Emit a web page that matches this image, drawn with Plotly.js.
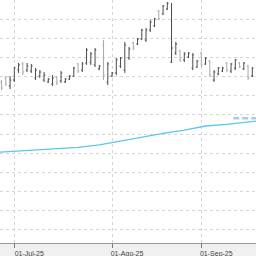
<!DOCTYPE html>
<html><head><meta charset="utf-8">
<script src="https://cdn.plot.ly/plotly-3.0.1.min.js"></script>
<style>html,body{margin:0;padding:0;background:#f0f0f0}#c{width:256px;height:256px}</style>
</head><body><div id="c"></div>
<script>
const dates = ['2025-06-26','2025-06-27','2025-06-30','2025-07-01','2025-07-02','2025-07-03','2025-07-04','2025-07-07','2025-07-08','2025-07-09','2025-07-10','2025-07-11','2025-07-14','2025-07-15','2025-07-16','2025-07-17','2025-07-18','2025-07-21','2025-07-22','2025-07-23','2025-07-24','2025-07-25','2025-07-28','2025-07-29','2025-07-30','2025-07-31','2025-08-01','2025-08-04','2025-08-05','2025-08-06','2025-08-07','2025-08-08','2025-08-11','2025-08-12','2025-08-13','2025-08-14','2025-08-15','2025-08-18','2025-08-19','2025-08-20','2025-08-21','2025-08-22','2025-08-25','2025-08-26','2025-08-27','2025-08-28','2025-08-29','2025-09-01','2025-09-02','2025-09-03','2025-09-04','2025-09-05','2025-09-08','2025-09-09','2025-09-10','2025-09-11','2025-09-12','2025-09-15','2025-09-16','2025-09-17'];
const high  = [20.82,21.03,21.03,21.50,21.71,21.76,21.71,21.66,21.45,21.34,21.24,20.93,21.08,21.03,21.29,20.93,21.08,21.50,21.71,21.76,22.49,22.28,22.49,21.61,22.91,21.76,21.24,21.97,22.02,22.81,22.55,22.81,23.02,23.49,23.54,23.96,24.06,24.48,24.74,24.90,24.84,22.81,22.39,22.28,22.28,22.23,21.87,22.28,22.02,21.87,21.34,21.50,21.50,21.76,21.71,21.92,21.76,21.76,21.61,21.50];
const low   = [20.30,20.51,20.35,20.72,21.19,21.08,21.24,21.19,20.82,20.93,20.72,20.67,20.51,20.56,20.67,20.67,20.82,20.98,21.19,21.24,21.61,21.61,21.50,21.34,20.82,20.56,20.98,21.08,21.45,21.19,21.87,22.39,22.65,22.91,22.81,23.33,23.59,23.96,24.22,24.48,21.71,22.13,21.76,21.76,21.97,21.34,21.45,21.50,21.61,20.98,20.72,21.08,21.24,21.24,21.19,21.34,21.45,21.34,20.82,20.98];
const open  = [20.72,20.93,20.51,20.82,21.35,21.66,21.34,21.29,20.93,21.03,20.82,20.72,20.61,20.98,20.77,20.72,20.87,21.03,21.66,21.34,21.71,21.76,21.61,21.40,22.65,20.72,21.03,21.19,21.55,21.34,21.97,22.75,22.70,22.96,22.91,23.43,23.64,24.43,24.27,24.53,21.76,22.23,22.34,21.87,22.02,21.45,21.50,22.23,21.66,21.81,20.82,21.13,21.29,21.71,21.29,21.45,21.71,21.40,21.55,21.03];
const close = [20.40,20.61,20.82,21.45,21.61,21.24,21.55,21.55,21.34,21.24,21.08,20.87,20.93,20.67,21.19,20.87,21.03,21.45,21.29,21.66,22.39,22.18,22.39,21.55,21.08,21.66,21.19,21.87,21.97,22.65,22.44,22.49,22.96,23.43,23.43,23.85,24.01,24.01,24.69,24.84,22.49,22.70,21.87,22.18,22.23,22.13,21.81,21.61,21.97,21.08,21.24,21.45,21.45,21.34,21.66,21.87,21.50,21.71,20.93,21.45];
const maDates = ['2025-06-25 15:00','2025-07-01','2025-07-08','2025-07-15','2025-07-22','2025-07-29','2025-08-05','2025-08-12','2025-08-19','2025-08-26','2025-09-02','2025-09-09','2025-09-16','2025-09-17 21:00'];
const maValues = [17.06,17.11,17.17,17.22,17.30,17.43,17.64,17.85,18.03,18.21,18.42,18.50,18.63,18.67];
const levelDates = ['2025-09-10 12:00','2025-09-18'];
const levelValues = [18.82,18.82];
const tickDates = ['2025-07-01','2025-08-01','2025-09-01'];
const tickLabels = ['01-Jul-25','01-Ago-25','01-Sep-25'];

const traces = [
  {type:'ohlc', x:dates, open:open, high:high, low:low, close:close, tickwidth:0.3,
   increasing:{line:{color:'#4a4a4a', width:1}}, decreasing:{line:{color:'#a8a8a8', width:1}},
   hoverinfo:'skip', showlegend:false},
  {type:'scatter', mode:'lines', x:maDates, y:maValues, line:{color:'#5cc6ee', width:1.3}, showlegend:false, hoverinfo:'skip'},
  {type:'scatter', mode:'lines', x:levelDates, y:levelValues, line:{color:'#a8cbef', width:2.5, dash:'6px,3px'}, showlegend:false, hoverinfo:'skip'}
];
const layout = {
  width:256, height:256, margin:{l:0,r:0,t:0,b:13,pad:0},
  paper_bgcolor:'#f0f0f0', plot_bgcolor:'#ffffff', showlegend:false,
  xaxis:{type:'date', range:['2025-06-25 15:14','2025-09-17 20:53'], rangebreaks:[{bounds:['sat','mon']}],
    rangeslider:{visible:false}, tickmode:'array', tickvals:tickDates, ticktext:tickLabels,
    showgrid:true, gridcolor:'#d4d4d4', griddash:'dot', gridwidth:1,
    ticks:'outside', ticklen:4, tickcolor:'#777', showline:true, linecolor:'#999', linewidth:1,
    tickfont:{family:'Liberation Sans', size:7, color:'#444'}, ticklabelshift:15, ticklabelstandoff:0, zeroline:false},
  yaxis:{range:[12.31,25], dtick:1, tick0:0, showticklabels:false, showgrid:true, gridcolor:'#d4d4d4', griddash:'dot', gridwidth:1, zeroline:false, showline:false, ticks:''}
};
Plotly.newPlot('c', traces, layout, {staticPlot:true, displayModeBar:false});
</script></body></html>
